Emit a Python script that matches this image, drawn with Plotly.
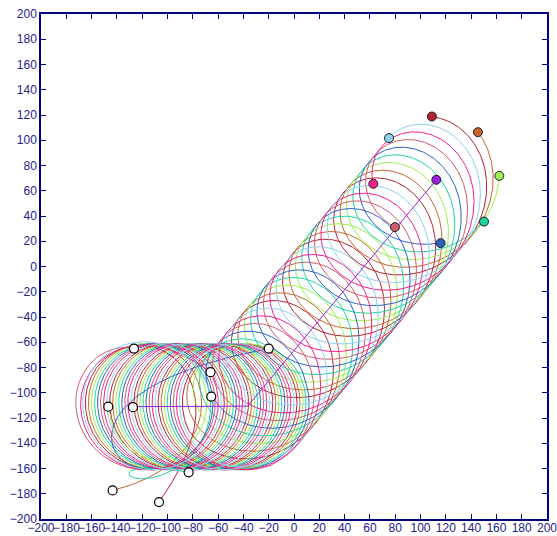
import numpy as np
import plotly.graph_objects as go

# Leader (formation centre) waypoints and how many turns the formation makes on each leg
leader_path_x = [-127, -37, 112.5]
leader_path_y = [-111, -111, 68.7]
segment_turns = [4.7, 3.7]
orbit_radius = 50

agent_colors = ["#b22234", "#c8642d", "#9cf04e", "#1fd6a0", "#2a62c4",
                "#cd5c6c", "#f0208c", "#8fd0f0"]
# start positions (open circles) of the 8 orbiting agents
start_x = [-106.7, -143.4, -146.8, -83.3, -20.0, -126.5, -66.0, -65.4]
start_y = [-186.6, -177.4, -111.0, -163.0, -65.0, -65.0, -83.7, -103.0]
# final positions (filled circles)
final_x = [109.0, 145.4, 162.3, 150.2, 115.9, 79.8, 62.7, 75.1]
final_y = [118.8, 106.4, 71.8, 35.6, 18.5, 31.2, 65.5, 101.7]

leader_color = "#9a20e0"
leader_start = (-127.3, -111.4)

steps_per_turn = 240
T = sum(segment_turns)
t = np.linspace(0, T, int(T * steps_per_turn) + 1)

# leader position along the piecewise-linear path
knots = np.concatenate([[0], np.cumsum(segment_turns)])
cx = np.interp(t, knots, leader_path_x)
cy = np.interp(t, knots, leader_path_y)

fig = go.Figure()
tau = 0.12
for i, col in enumerate(agent_colors):
    th_f = np.arctan2(final_y[i] - leader_path_y[-1], final_x[i] - leader_path_x[-1])
    th = th_f - 2 * np.pi * (T - t)
    px = cx + orbit_radius * np.cos(th)
    py = cy + orbit_radius * np.sin(th)
    ex = start_x[i] - px[0]
    ey = start_y[i] - py[0]
    decay = np.exp(-t / tau)
    px = px + ex * decay
    py = py + ey * decay
    fig.add_trace(go.Scatter(x=px, y=py, mode="lines",
                             line=dict(color=col, width=1), hoverinfo="skip",
                             showlegend=False))

fig.add_trace(go.Scatter(x=cx, y=cy, mode="lines",
                         line=dict(color=leader_color, width=1), showlegend=False))

# start markers
fig.add_trace(go.Scatter(x=start_x + [leader_start[0]], y=start_y + [leader_start[1]],
                         mode="markers",
                         marker=dict(size=9, color="white",
                                     line=dict(color="black", width=1.2)),
                         showlegend=False))
# final markers
fig.add_trace(go.Scatter(x=final_x + [leader_path_x[-1]], y=final_y + [leader_path_y[-1]],
                         mode="markers",
                         marker=dict(size=9, color=agent_colors + [leader_color],
                                     line=dict(color="#202020", width=1)),
                         showlegend=False))

axis_col = "#00007f"
ax = dict(range=[-200, 200], dtick=20, tick0=-200, ticks="inside", ticklen=5,
          tickcolor=axis_col, showline=True, linecolor=axis_col, linewidth=1.5,
          mirror="ticks", showgrid=False, zeroline=False, tickangle=0,
          automargin=False, ticklabeloverflow="allow",
          tickfont=dict(family="Liberation Sans, Arial", size=12, color="#23238a"))
fig.update_layout(width=557, height=536,
                  margin=dict(l=41, r=10, t=14, b=17),
                  paper_bgcolor="white", plot_bgcolor="white",
                  xaxis=dict(ax, ticklabelstandoff=-3), yaxis=ax)
fig.write_html("out.html", config={"displayModeBar": False},
               post_script="document.body.style.margin='0';"
                           "document.body.style.overflow='hidden';")
